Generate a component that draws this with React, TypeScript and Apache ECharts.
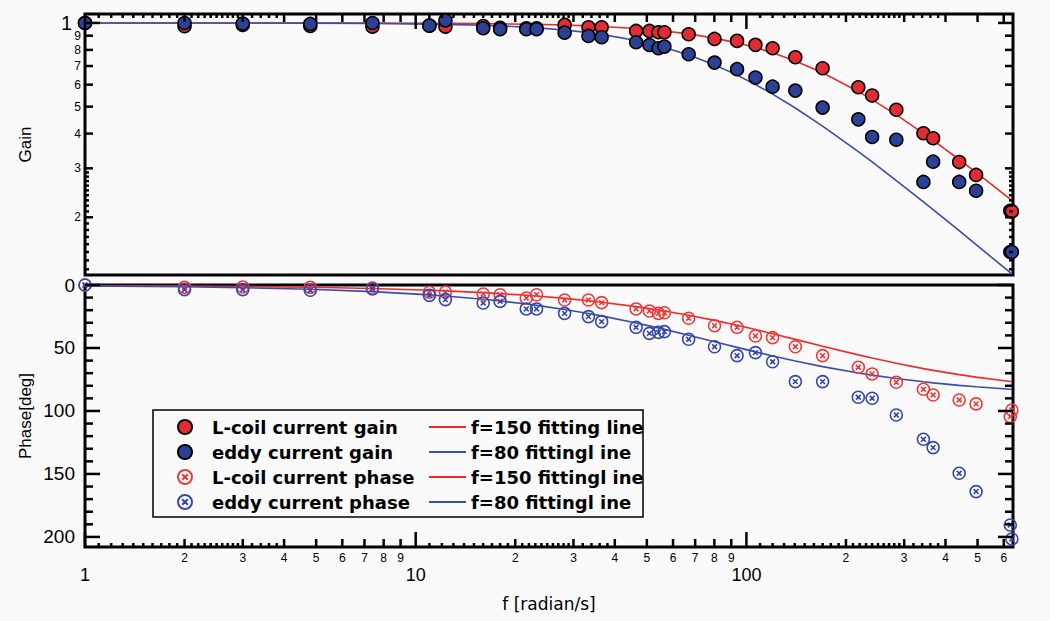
import React, { useEffect, useRef } from 'react';
import * as echarts from 'echarts';

// ---------- data ----------
const freq = [1, 2, 3, 4.8, 7.4, 11, 12.3, 16, 18, 21.6, 23.2, 28.2, 33.3, 36.5, 46.4, 50.9, 54.2, 56.5, 66.9, 80.1, 93.7, 106.5, 120, 140.6, 170, 218, 240, 284, 343, 367, 440, 495, 628, 635];

const lcoilGain = [1.0, 0.973, 0.984, 0.975, 0.97, 0.978, 0.97, 0.975, 0.96, 0.957, 0.957, 0.984, 0.965, 0.965, 0.936, 0.936, 0.926, 0.926, 0.911, 0.876, 0.862, 0.834, 0.811, 0.753, 0.687, 0.587, 0.548, 0.487, 0.401, 0.385, 0.316, 0.284, 0.211, 0.21];
const eddyGain = [1.0, 1.0, 0.995, 0.992, 1.0, 0.978, 1.02, 0.957, 0.949, 0.949, 0.949, 0.923, 0.898, 0.888, 0.852, 0.833, 0.811, 0.822, 0.772, 0.72, 0.682, 0.636, 0.59, 0.571, 0.496, 0.45, 0.389, 0.38, 0.268, 0.317, 0.268, 0.249, 0.15, 0.15];
const lcoilPhase = [0, 1.9, 1.6, 1.9, 2.4, 5.8, 5.6, 7.1, 7.7, 10.3, 7.7, 11.9, 11.9, 14, 19, 20.6, 22.5, 22, 26.4, 32.3, 33.6, 40.5, 41.8, 49, 56.1, 65.3, 70.6, 77.2, 82.8, 87.3, 91.3, 94.4, 104.5, 99.2];
const eddyPhase = [0, 3.7, 3.7, 4.2, 3.2, 8.2, 11.6, 14.3, 13, 19, 19, 22.5, 25.1, 29.1, 33.6, 38.4, 37.6, 37, 43.1, 49, 56.1, 53.7, 60.9, 76.7, 76.7, 89.1, 89.9, 103.2, 122.5, 129.1, 149.5, 164, 190.5, 201.6];

const fit150Gain = [1.0, 0.9999, 0.9998, 0.9995, 0.9988, 0.9973, 0.9967, 0.9944, 0.9929, 0.9898, 0.9883, 0.9828, 0.9762, 0.9716, 0.9553, 0.947, 0.9405, 0.9358, 0.9133, 0.8821, 0.8481, 0.8154, 0.7809, 0.7296, 0.6616, 0.5668, 0.53, 0.467, 0.4007, 0.3783, 0.3227, 0.29, 0.2323, 0.2299];
const fit80Gain = [0.9999, 0.9997, 0.9993, 0.9982, 0.9957, 0.9907, 0.9884, 0.9806, 0.9756, 0.9654, 0.9604, 0.9431, 0.9232, 0.9098, 0.865, 0.8437, 0.8279, 0.8168, 0.7671, 0.7067, 0.6493, 0.6006, 0.5547, 0.4945, 0.4258, 0.3445, 0.3162, 0.2711, 0.2271, 0.213, 0.1789, 0.1595, 0.1264, 0.125];
const fit150Phase = [0.38, 0.76, 1.15, 1.83, 2.82, 4.19, 4.69, 6.09, 6.84, 8.19, 8.79, 10.65, 12.52, 13.68, 17.19, 18.74, 19.86, 20.64, 24.04, 28.1, 32.01, 35.37, 38.66, 43.15, 48.58, 55.47, 57.99, 62.16, 66.38, 67.77, 71.18, 73.14, 76.57, 76.71];
const fit80Phase = [0.72, 1.43, 2.15, 3.43, 5.28, 7.83, 8.74, 11.31, 12.68, 15.11, 16.17, 19.42, 22.6, 24.53, 30.11, 32.46, 34.11, 35.23, 39.9, 45.04, 49.51, 53.09, 56.31, 60.36, 64.8, 69.85, 71.57, 74.27, 76.87, 77.7, 79.7, 80.82, 82.74, 82.82];

// tick values
const xDecadeTicks = [1, 10, 100];
const xDigitTicks = [2, 3, 4, 5, 6, 7, 8, 9, 20, 30, 40, 50, 60, 70, 80, 90, 200, 300, 400, 500, 600];
const xMinorTicks = [
  1.1, 1.2, 1.3, 1.4, 1.5, 1.6, 1.7, 1.8, 1.9, 2.1, 2.2, 2.3, 2.4, 2.5, 2.6, 2.7, 2.8, 2.9, 3.2, 3.4, 3.6, 3.8,
  11, 12, 13, 14, 15, 16, 17, 18, 19, 21, 22, 23, 24, 25, 26, 27, 28, 29, 32, 34, 36, 38,
  110, 120, 130, 140, 150, 160, 170, 180, 190, 210, 220, 230, 240, 250, 260, 270, 280, 290, 320, 340, 360, 380,
];
const gainDecadeTicks = [1];
const gainDigitTicks = [0.9, 0.8, 0.7, 0.6, 0.5, 0.4, 0.3, 0.2];
const gainMinorTicks = [0.29, 0.28, 0.27, 0.26, 0.25, 0.24, 0.23, 0.22, 0.21, 0.19, 0.18, 0.17, 0.16, 0.15, 0.14, 0.13];
const phaseMajorTicks = [0, 50, 100, 150, 200];
const phaseMinorTicks = [10, 20, 30, 40, 60, 70, 80, 90, 110, 120, 130, 140, 160, 170, 180, 190];

// ---------- styling ----------
const BLACK = '#000';
const RED_FILL = '#e32b33';
const BLUE_FILL = '#2c4195';
const RED_LINE = '#f02a2a';
const BLUE_LINE = '#3a4cb0';
const BG = '#fafafa';
const TICK_LEN = [15, 8, 4];
const TICK_W = 2.5;
const LABEL_FONT = 'Liberation Sans';
const OTIMES = 'path://M10,0A10,10,0,1,1,-10,0A10,10,0,1,1,10,0ZM-4,-4L4,4M4,-4L-4,4';

const pairs = (ys: number[]) => freq.map((f, i) => [f, ys[i]]);

function textEl(x: number, y: number, text: string, fontSize: number, align: string) {
  return {
    type: 'text',
    x,
    y,
    style: {
      text,
      fontSize,
      fontFamily: LABEL_FONT,
      fontWeight: 'normal',
      font: `${fontSize}px "${LABEL_FONT}"`,
      fill: BLACK,
      textFill: BLACK,
      align,
      textAlign: align,
      verticalAlign: 'middle',
      textVerticalAlign: 'middle',
    },
  };
}

function tickLine(x1: number, y1: number, x2: number, y2: number) {
  return { type: 'line', shape: { x1, y1, x2, y2 }, style: { stroke: BLACK, lineWidth: TICK_W } };
}

function leadDigit(v: number) {
  const d = Math.pow(10, Math.floor(Math.log10(v) + 1e-9));
  return String(Math.round(v / d));
}

const xTickData = (y: number) => [
  ...xDecadeTicks.map((v) => [v, y, 0]),
  ...xDigitTicks.map((v) => [v, y, 1]),
  ...xMinorTicks.map((v) => [v, y, 2]),
];

const gainTickData = [
  ...gainDecadeTicks.map((v) => [1, v, 0]),
  ...gainDigitTicks.map((v) => [1, v, 1]),
  ...gainMinorTicks.map((v) => [1, v, 2]),
];
const phaseTickData = [...phaseMajorTicks.map((v) => [1, v, 0]), ...phaseMinorTicks.map((v) => [1, v, 1])];

const tickSeriesBase = (idx: number) => ({
  type: 'custom',
  xAxisIndex: idx,
  yAxisIndex: idx,
  silent: true,
  clip: false,
  z: 10,
  tooltip: { show: false },
});

export default function App() {
  const ref = useRef<HTMLDivElement>(null);

  useEffect(() => {
    if (!ref.current) return;
    const chart = echarts.init(ref.current, null, { renderer: 'svg' });

    const legendText = {
      fontFamily: 'DejaVu Sans',
      fontWeight: 'bold',
      fontSize: 18,
      color: BLACK,
      lineHeight: 18,
    };

    const option: any = {
      animation: false,
      backgroundColor: BG,
      textStyle: { fontFamily: LABEL_FONT },
      grid: [
        { left: 85, top: 14, width: 928, height: 261, show: true, borderColor: BLACK, borderWidth: 3, backgroundColor: 'transparent' },
        { left: 85, top: 285, width: 928, height: 262, show: true, borderColor: BLACK, borderWidth: 3, backgroundColor: 'transparent' },
      ],
      xAxis: [
        {
          type: 'log', gridIndex: 0, min: 1, max: 640, logBase: 10,
          axisLine: { show: false }, axisTick: { show: false }, axisLabel: { show: false }, splitLine: { show: false },
        },
        {
          type: 'log', gridIndex: 1, min: 1, max: 640, logBase: 10,
          axisLine: { show: false }, axisTick: { show: false }, axisLabel: { show: false }, splitLine: { show: false },
          name: 'f [radian/s]', nameLocation: 'middle', nameGap: 48, nameMoveOverlap: false,
          nameTextStyle: { fontFamily: 'DejaVu Sans', fontSize: 17, color: BLACK },
        },
      ],
      yAxis: [
        {
          type: 'log', gridIndex: 0, min: 0.124, max: 1.077, logBase: 10,
          axisLine: { show: false }, axisTick: { show: false }, axisLabel: { show: false }, splitLine: { show: false },
          name: 'Gain', nameLocation: 'middle', nameGap: 51, nameRotate: 90, nameMoveOverlap: false,
          nameTextStyle: { fontFamily: LABEL_FONT, fontSize: 17, color: BLACK },
        },
        {
          type: 'value', gridIndex: 1, min: 0, max: 208, interval: 50, inverse: true,
          axisLine: { show: false }, axisTick: { show: false }, splitLine: { show: false },
          axisLabel: {
            show: true, margin: 10, fontSize: 19, color: BLACK, fontFamily: LABEL_FONT,
            formatter: (v: number) => (v % 50 === 0 ? String(v) : ''),
          },
          name: 'Phase[deg]', nameLocation: 'middle', nameGap: 51, nameRotate: 90, nameMoveOverlap: false,
          nameTextStyle: { fontFamily: LABEL_FONT, fontSize: 17, color: BLACK },
        },
      ],
      legend: [
        {
          data: ['L-coil current gain', 'eddy current gain', 'L-coil current phase', 'eddy current phase'],
          orient: 'vertical', left: 177, top: 418, padding: 0,
          itemWidth: 44, itemHeight: 14, itemGap: 7,
          selectedMode: false, textStyle: legendText,
        },
        {
          data: ['f=150 fitting line', 'f=80 fittingl ine', 'f=150 fittingl ine', 'f=80 fittingl ine (phase)'],
          orient: 'vertical', left: 428, top: 418, padding: 0,
          itemWidth: 37, itemHeight: 14, itemGap: 7,
          itemStyle: { opacity: 0 },
          selectedMode: false, textStyle: legendText,
          formatter: (n: string) => n.replace(' (phase)', ''),
        },
      ],
      graphic: [
        {
          type: 'rect', z: 3,
          shape: { x: 153, y: 410, width: 490, height: 107 },
          style: { fill: BG, stroke: BLACK, lineWidth: 1.5 },
        },
      ],
      series: [
        // fitting lines
        { type: 'line', name: 'f=150 fitting line', xAxisIndex: 0, yAxisIndex: 0, data: pairs(fit150Gain), symbol: 'none', showSymbol: false, lineStyle: { color: RED_LINE, width: 1.6 }, itemStyle: { color: RED_LINE }, z: 2 },
        { type: 'line', name: 'f=80 fittingl ine', xAxisIndex: 0, yAxisIndex: 0, data: pairs(fit80Gain), symbol: 'none', showSymbol: false, lineStyle: { color: BLUE_LINE, width: 1.6 }, itemStyle: { color: BLUE_LINE }, z: 2 },
        { type: 'line', name: 'f=150 fittingl ine', xAxisIndex: 1, yAxisIndex: 1, data: pairs(fit150Phase), symbol: 'none', showSymbol: false, lineStyle: { color: RED_LINE, width: 1.6 }, itemStyle: { color: RED_LINE }, z: 2 },
        { type: 'line', name: 'f=80 fittingl ine (phase)', xAxisIndex: 1, yAxisIndex: 1, data: pairs(fit80Phase), symbol: 'none', showSymbol: false, lineStyle: { color: BLUE_LINE, width: 1.6 }, itemStyle: { color: BLUE_LINE }, z: 2 },
        // measured points
        { type: 'scatter', name: 'L-coil current gain', xAxisIndex: 0, yAxisIndex: 0, data: pairs(lcoilGain), symbol: 'circle', symbolSize: 13, clip: false, itemStyle: { color: RED_FILL, borderColor: BLACK, borderWidth: 1.5, opacity: 1 }, z: 3 },
        { type: 'scatter', name: 'eddy current gain', xAxisIndex: 0, yAxisIndex: 0, data: pairs(eddyGain), symbol: 'circle', symbolSize: 13, clip: false, itemStyle: { color: BLUE_FILL, borderColor: BLACK, borderWidth: 1.5, opacity: 1 }, z: 3 },
        { type: 'scatter', name: 'L-coil current phase', xAxisIndex: 1, yAxisIndex: 1, data: pairs(lcoilPhase), symbol: OTIMES, symbolSize: 12, symbolKeepAspect: true, clip: false, itemStyle: { color: 'rgba(0,0,0,0)', borderColor: '#f03a3a', borderWidth: 1.6, opacity: 1 }, z: 3 },
        { type: 'scatter', name: 'eddy current phase', xAxisIndex: 1, yAxisIndex: 1, data: pairs(eddyPhase), symbol: OTIMES, symbolSize: 12, symbolKeepAspect: true, clip: false, itemStyle: { color: 'rgba(0,0,0,0)', borderColor: '#3447ad', borderWidth: 1.6, opacity: 1 }, z: 3 },
        // top panel x ticks (inside, from the top edge)
        {
          ...tickSeriesBase(0),
          name: 'xTicksTop',
          data: xTickData(1),
          renderItem: (params: any, api: any) => {
            const cs = params.coordSys;
            const x = api.coord([api.value(0), 1])[0];
            const len = TICK_LEN[api.value(2)];
            return tickLine(x, cs.y, x, cs.y + len);
          },
        },
        // bottom panel x ticks + labels
        {
          ...tickSeriesBase(1),
          name: 'xTicksBottom',
          data: xTickData(100),
          renderItem: (params: any, api: any) => {
            const cs = params.coordSys;
            const v = api.value(0);
            const kind = api.value(2);
            const x = api.coord([v, 100])[0];
            const yb = cs.y + cs.height;
            const children: any[] = [tickLine(x, yb, x, yb - TICK_LEN[kind])];
            if (kind === 0) children.push(textEl(x, yb + 28, String(v), 18, 'center'));
            if (kind === 1) children.push(textEl(x, yb + 11, leadDigit(v), 12, 'center'));
            return { type: 'group', children };
          },
        },
        // gain y ticks (both sides) + labels
        {
          ...tickSeriesBase(0),
          name: 'gainTicks',
          data: gainTickData,
          renderItem: (params: any, api: any) => {
            const cs = params.coordSys;
            const v = api.value(1);
            const kind = api.value(2);
            const y = api.coord([1, v])[1];
            const len = TICK_LEN[kind];
            const xr = cs.x + cs.width;
            const children: any[] = [tickLine(cs.x, y, cs.x + len, y), tickLine(xr - len, y, xr, y)];
            if (kind === 0) children.push(textEl(cs.x - 13, y, '1', 20, 'right'));
            if (kind === 1) children.push(textEl(cs.x - 4, y, String(Math.round(v * 10)), 12, 'right'));
            return { type: 'group', children };
          },
        },
        // phase y ticks (both sides)
        {
          ...tickSeriesBase(1),
          name: 'phaseTicks',
          data: phaseTickData,
          renderItem: (params: any, api: any) => {
            const cs = params.coordSys;
            const y = api.coord([1, api.value(1)])[1];
            const len = TICK_LEN[api.value(2)];
            const xr = cs.x + cs.width;
            return { type: 'group', children: [tickLine(cs.x, y, cs.x + len, y), tickLine(xr - len, y, xr, y)] };
          },
        },
      ],
    };

    chart.setOption(option);
    return () => chart.dispose();
  }, []);

  return <div ref={ref} style={{ position: 'fixed', left: 0, top: 0, width: 1050, height: 621 }} />;
}
